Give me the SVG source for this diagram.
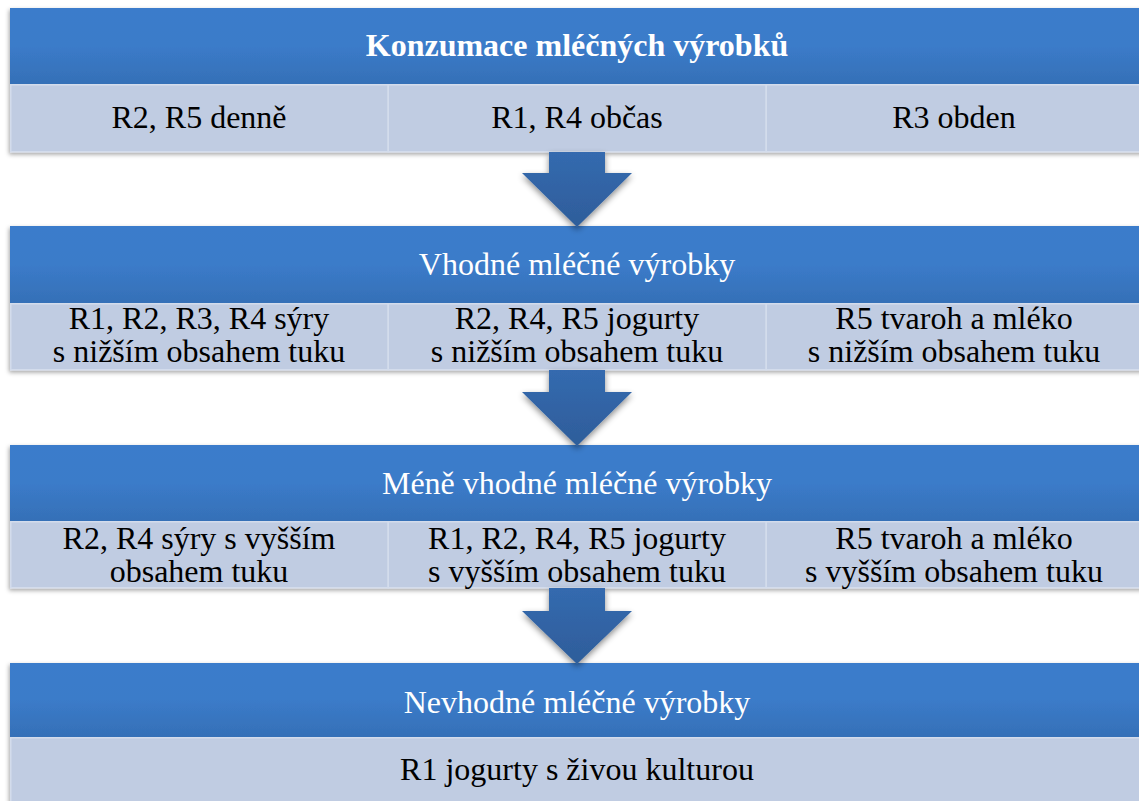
<svg xmlns="http://www.w3.org/2000/svg" width="1139" height="801" viewBox="0 0 1139 801">
  <defs>
    <linearGradient id="hdrGrad" x1="0" y1="0" x2="0" y2="1">
      <stop offset="0" stop-color="#3B7CCB"/>
      <stop offset="0.5" stop-color="#3B7BC9"/>
      <stop offset="1" stop-color="#3570B7"/>
    </linearGradient>
    <linearGradient id="arrowGrad" x1="0" y1="0" x2="0" y2="1">
      <stop offset="0" stop-color="#346AAF"/>
      <stop offset="1" stop-color="#2E5D9A"/>
    </linearGradient>
    <filter id="blockShadow" x="-5%" y="-10%" width="110%" height="130%">
      <feDropShadow dx="-1" dy="2" stdDeviation="2" flood-color="#000" flood-opacity="0.35"/>
    </filter>
    <filter id="arrowShadow" x="-20%" y="-20%" width="140%" height="140%">
      <feDropShadow dx="0" dy="3" stdDeviation="3" flood-color="#000" flood-opacity="0.45"/>
    </filter>
  </defs>
  <style>
    .hdr { fill: url(#hdrGrad); }
    .cell { fill: #C0CCE2; stroke: #D3DCEC; stroke-width: 1.5; }
    text { font-family: "Liberation Serif", "DejaVu Serif", serif; font-size: 32px; text-anchor: middle; font-weight: normal; }
    .th { fill: #FFFFFF; }
    .tb { font-weight: bold; }
    .tc { fill: #000000; }
    .arrow { fill: url(#arrowGrad); filter: url(#arrowShadow); }
  </style>
  <rect width="1139" height="801" fill="#FFFFFF"/>

  <!-- Level 1 -->
  <g id="level1">
    <g filter="url(#blockShadow)">
      <rect class="hdr" x="10" y="8" width="1135" height="76"/>
      <rect class="cell" x="10.75" y="84.75" width="377.5" height="67"/>
      <rect class="cell" x="388.25" y="84.75" width="378" height="67"/>
      <rect class="cell" x="766.25" y="84.75" width="378" height="67"/>
    </g>
    <text class="th tb" x="577" y="56">Konzumace mléčných výrobků</text>
    <text class="tc" x="199" y="128">R2, R5 denně</text>
    <text class="tc" x="577" y="128">R1, R4 občas</text>
    <text class="tc" x="954" y="128">R3 obden</text>
  </g>

  <!-- Level 2 -->
  <g id="level2">
    <g filter="url(#blockShadow)">
      <rect class="hdr" x="10" y="226" width="1135" height="77"/>
      <rect class="cell" x="10.75" y="303.75" width="377.5" height="66"/>
      <rect class="cell" x="388.25" y="303.75" width="378" height="66"/>
      <rect class="cell" x="766.25" y="303.75" width="378" height="66"/>
    </g>
    <text class="th" x="577" y="275">Vhodné mléčné výrobky</text>
    <text class="tc" x="199" y="329">R1, R2, R3, R4 sýry</text>
    <text class="tc" x="199" y="362">s nižším obsahem tuku</text>
    <text class="tc" x="577" y="329">R2, R4, R5 jogurty</text>
    <text class="tc" x="577" y="362">s nižším obsahem tuku</text>
    <text class="tc" x="954" y="329">R5 tvaroh a mléko</text>
    <text class="tc" x="954" y="362">s nižším obsahem tuku</text>
  </g>

  <!-- Level 3 -->
  <g id="level3">
    <g filter="url(#blockShadow)">
      <rect class="hdr" x="10" y="445" width="1135" height="76"/>
      <rect class="cell" x="10.75" y="521.75" width="377.5" height="66"/>
      <rect class="cell" x="388.25" y="521.75" width="378" height="66"/>
      <rect class="cell" x="766.25" y="521.75" width="378" height="66"/>
    </g>
    <text class="th" x="577" y="494">Méně vhodné mléčné výrobky</text>
    <text class="tc" x="199" y="549">R2, R4 sýry s vyšším</text>
    <text class="tc" x="199" y="582">obsahem tuku</text>
    <text class="tc" x="577" y="549">R1, R2, R4, R5 jogurty</text>
    <text class="tc" x="577" y="582">s vyšším obsahem tuku</text>
    <text class="tc" x="954" y="549">R5 tvaroh a mléko</text>
    <text class="tc" x="954" y="582">s vyšším obsahem tuku</text>
  </g>

  <!-- Level 4 -->
  <g id="level4">
    <g filter="url(#blockShadow)">
      <rect class="hdr" x="10" y="663" width="1135" height="74"/>
      <rect class="cell" x="10.75" y="737.75" width="1134" height="80"/>
    </g>
    <text class="th" x="577" y="713">Nevhodné mléčné výrobky</text>
    <text class="tc" x="577" y="780">R1 jogurty s živou kulturou</text>
  </g>

  <!-- Downward block arrows between levels -->
  <g id="connectors">
    <polygon class="arrow" points="549,152 605,152 605,173 632,173 577,227 522,173 549,173"/>
    <polygon class="arrow" points="549,370 605,370 605,392 632,392 577,446 522,392 549,392"/>
    <polygon class="arrow" points="549,588 605,588 605,611 632,611 577,664 522,611 549,611"/>
  </g>
</svg>
